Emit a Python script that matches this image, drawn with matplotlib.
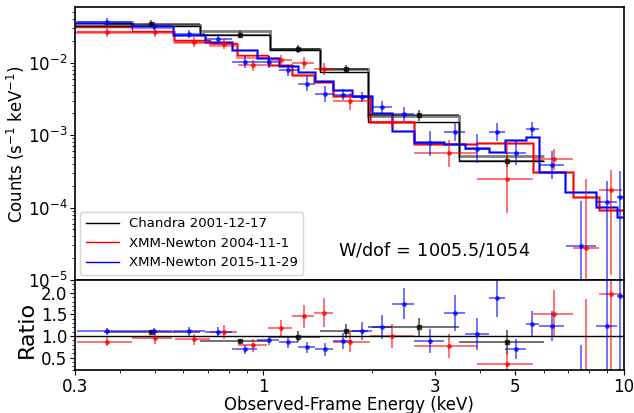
import numpy as np
import matplotlib
matplotlib.use("Agg")
import matplotlib.pyplot as plt
from matplotlib.ticker import FixedLocator, FixedFormatter, NullFormatter, MultipleLocator

# ---------------- data ----------------
# Chandra 2001-12-17
ch_x = [0.488, 0.862, 1.249, 1.697, 2.708, 4.755]
ch_lo = [0.36, 0.667, 1.044, 1.438, 1.955, 3.477]
ch_hi = [0.667, 1.044, 1.438, 1.955, 3.477, 5.985]
ch_y = [0.0344, 0.02427, 0.01543, 0.00827, 0.00187, 0.000435]
ch_dex = [0.05, 0.05, 0.05, 0.05, 0.07, 0.08]
ch_ratio = [1.098, 0.886, 0.98, 1.12, 1.21, 0.86]
ch_rerr = [0.04, 0.05, 0.13, 0.17, 0.2, 0.27]
ch_edges = [0.30, 0.667, 1.044, 1.438, 1.955, 3.477, 5.985]
ch_model = [0.03228, 0.02427, 0.01509, 0.00740, 0.001543, 0.000435]
ch_model2 = [0.03363, 0.02781, 0.01558, 0.00827, 0.001866, 0.000509]

# XMM-Newton 2004-11-1
r_x = [0.369, 0.500, 0.640, 0.779, 0.938, 1.118, 1.292, 1.475, 1.742, 2.274,
       3.267, 4.746, 6.394, 7.866, 9.19]
r_lo = [0.3033, 0.432, 0.569, 0.711, 0.851, 1.03, 1.200, 1.377, 1.562, 1.979,
        2.623, 3.916, 5.605, 7.239, 8.51]
r_hi = [0.432, 0.557, 0.711, 0.844, 1.022, 1.200, 1.377, 1.562, 1.979, 2.623,
        3.916, 5.605, 7.239, 8.51, 9.90]
r_y = [0.02644, 0.0264, 0.01926, 0.01808, 0.00918, 0.01075, 0.00990, 0.00819,
       0.00294, 0.00151, 0.000560, 0.000251, 0.000463, 2.74e-5, 0.000175]
r_dex_dn = [0.07, 0.07, 0.07, 0.07, 0.08, 0.07, 0.08, 0.08, 0.12, 0.08,
            0.19, 0.47, 0.14, 3.0, 1.18]
r_dex_up = [0.07, 0.07, 0.07, 0.07, 0.08, 0.07, 0.08, 0.08, 0.12, 0.08,
            0.19, 0.50, 0.14, 0.96, 0.28]
r_ratio = [0.87, 0.955, 0.92, 1.10, 0.78, 1.18, 1.46, 1.54, 0.86, 1.0,
           0.77, 0.34, 1.52, 0.15, 1.97]
r_rerr_dn = [0.11, 0.13, 0.13, 0.16, 0.15, 0.19, 0.27, 0.34, 0.23, 0.28,
             0.28, 0.3, 0.54, 0.5, 2.0]
r_rerr_up = [0.11, 0.13, 0.13, 0.16, 0.15, 0.19, 0.27, 0.34, 0.23, 0.28,
             0.28, 0.3, 0.54, 1.7, 2.0]
r_edges = [0.30, 0.432, 0.563, 0.711, 0.844, 1.03, 1.200, 1.377, 1.562, 1.979,
           2.623, 3.916, 5.605, 7.239, 8.51, 10.0]
r_model = [0.03078, 0.02712, 0.02072, 0.01884, 0.01288, 0.00939, 0.00684, 0.00548,
           0.003516, 0.00151, 0.000745, 0.000786, 0.000312, 0.0001421, 0.0000921]
r_model2 = [0.02627, 0.02695, 0.01945, 0.01769, 0.01209, 0.00939, 0.00684, 0.00548,
            0.00344, 0.001509, 0.000745, 0.000786, 0.000312, 0.000142, 0.0000921]

# XMM-Newton 2015-11-29
b_x = [0.369, 0.498, 0.623, 0.750, 0.886, 1.033, 1.169, 1.321, 1.478, 1.662,
       1.877, 2.132, 2.450, 2.893, 3.409, 3.916, 4.453, 5.028, 5.568, 6.33,
       7.585, 8.955, 9.75]
b_lo = [0.3033, 0.432, 0.5626, 0.689, 0.8175, 0.959, 1.101, 1.247, 1.393, 1.559,
        1.761, 2.001, 2.274, 2.623, 3.177, 3.635, 4.219, 4.694, 5.359, 5.808,
        6.89, 8.35, 9.55]
b_hi = [0.432, 0.557, 0.689, 0.8175, 0.959, 1.101, 1.247, 1.393, 1.559, 1.761,
        2.001, 2.274, 2.623, 3.177, 3.635, 4.219, 4.694, 5.359, 5.808, 6.815,
        8.35, 9.55, 10.0]
b_y = [0.0363, 0.03258, 0.02529, 0.02118, 0.01022, 0.01022, 0.00784, 0.00514,
       0.00375, 0.00363, 0.00338, 0.00246, 0.00197, 0.000769, 0.00110, 0.000650,
       0.00110, 0.000573, 0.001198, 0.000387, 2.92e-5, 0.000121, 0.000138]
b_dex_dn = [0.055, 0.055, 0.055, 0.07, 0.08, 0.08, 0.08, 0.1, 0.11, 0.08,
            0.07, 0.08, 0.1, 0.17, 0.12, 0.2, 0.12, 0.17, 0.11, 0.19,
            3.0, 3.0, 3.0]
b_dex_up = [0.055, 0.055, 0.055, 0.07, 0.08, 0.08, 0.08, 0.1, 0.11, 0.08,
            0.07, 0.08, 0.1, 0.17, 0.12, 0.2, 0.12, 0.17, 0.11, 0.19,
            0.63, 0.28, 0.37]
b_ratio = [1.107, 1.107, 1.107, 1.10, 0.69, 0.90, 0.87, 0.74, 0.69, 0.88,
           1.12, 1.21, 1.75, 0.89, 1.54, 1.045, 1.88, 0.69, 1.27, 1.23,
           0.15, 1.23, 1.93]
b_rerr_dn = [0.09, 0.09, 0.1, 0.11, 0.11, 0.11, 0.14, 0.13, 0.15, 0.18,
             0.21, 0.28, 0.36, 0.28, 0.42, 0.38, 0.44, 0.23, 0.3, 0.34,
             0.5, 1.5, 2.0]
b_rerr_up = [0.09, 0.09, 0.1, 0.11, 0.11, 0.11, 0.14, 0.13, 0.15, 0.18,
             0.21, 0.28, 0.36, 0.28, 0.42, 0.38, 0.44, 0.23, 0.3, 0.34,
             0.63, 1.5, 2.0]
b_edges = [0.30, 0.432, 0.5626, 0.689, 0.8175, 0.959, 1.101, 1.247, 1.393, 1.559,
           1.761, 2.001, 2.274, 2.623, 3.177, 3.635, 4.219, 4.694, 5.359, 5.808,
           6.85, 8.35, 9.55, 10.0]
b_model = [0.03494, 0.03228, 0.02427, 0.01963, 0.01509, 0.01160, 0.00909, 0.00735,
           0.00553, 0.00425, 0.00344, 0.002033, 0.001135, 0.000793, 0.000745,
           0.000667, 0.000584, 0.000854, 0.000951, 0.000314, 0.0001644,
           0.0001003, 0.0000731]
b_model2 = [0.0363, 0.03127, 0.02427, 0.01963, 0.01509, 0.01160, 0.00909, 0.00735,
            0.00553, 0.00425, 0.00344, 0.002033, 0.001135, 0.000793, 0.000745,
            0.000667, 0.000584, 0.000854, 0.000951, 0.000314, 0.0001644,
            0.0001003, 0.0000731]

labels = ["Chandra 2001-12-17", "XMM-Newton 2004-11-1", "XMM-Newton 2015-11-29"]
colors = ["black", "red", "blue"]
xticks = [0.3, 1, 3, 5, 10]
xticklabels = ["0.3", "1", "3", "5", "10"]
fit_text = "W/dof$\\,=\\,$1005.5/1054"

# ---------------- figure ----------------
fig = plt.figure(figsize=(6.34, 4.13), dpi=100)
L, R = 0.1183, 0.984
ax1 = fig.add_axes([L, 0.322, R - L, 0.982 - 0.322])
ax2 = fig.add_axes([L, 0.103, R - L, 0.322 - 0.103], sharex=ax1)

series = [
    (ch_x, ch_lo, ch_hi, ch_y, ch_dex, ch_dex, ch_ratio, ch_rerr, ch_rerr,
     ch_edges, ch_model, ch_model2, 's'),
    (r_x, r_lo, r_hi, r_y, r_dex_dn, r_dex_up, r_ratio, r_rerr_dn, r_rerr_up,
     r_edges, r_model, r_model2, 'o'),
    (b_x, b_lo, b_hi, b_y, b_dex_dn, b_dex_up, b_ratio, b_rerr_dn, b_rerr_up,
     b_edges, b_model, b_model2, 'o'),
]

for (x, lo, hi, y, ddn, dup, rat, rdn, rup, edges, m1, m2, mk), c, lab in zip(series, colors, labels):
    x = np.array(x); lo = np.array(lo); hi = np.array(hi); y = np.array(y)
    yl = y - y * 10 ** (-np.array(ddn))
    yu = y * 10 ** np.array(dup) - y
    xerr = [x - lo, hi - x]
    ax1.stairs(m2, edges, color=c, lw=2.0, alpha=0.5, baseline=None)
    ax1.stairs(m1, edges, color=c, lw=1.0, baseline=None, label=lab)
    ax1.errorbar(x, y, xerr=xerr, yerr=[yl, yu], fmt=mk, ms=2.5, color=c,
                 elinewidth=1.2, capsize=0, alpha=0.65)
    rat = np.array(rat)
    ax2.errorbar(x, rat, xerr=xerr, yerr=[rdn, rup], fmt=mk, ms=2.5, color=c,
                 elinewidth=1.2, capsize=0, alpha=0.65)

ax2.axhline(1.0, color='black', lw=1.0)

ax1.set_xscale('log')
ax1.set_yscale('log')
ax1.set_xlim(0.3, 10)
ax1.set_ylim(1e-5, 0.058)
ax2.set_ylim(0.2, 2.3)

ax2.xaxis.set_major_locator(FixedLocator(xticks))
ax2.xaxis.set_major_formatter(FixedFormatter(xticklabels))
ax2.xaxis.set_minor_locator(FixedLocator([0.4, 0.5, 0.6, 0.7, 0.8, 0.9, 2, 4, 6, 7, 8, 9]))
ax2.xaxis.set_minor_formatter(NullFormatter())
plt.setp(ax1.get_xticklabels(which='both'), visible=False)
ax1.tick_params(axis='x', which='both', length=0)

ax2.yaxis.set_major_locator(FixedLocator([0.5, 1.0, 1.5, 2.0]))
ax2.yaxis.set_minor_locator(MultipleLocator(0.1))

for ax in (ax1, ax2):
    ax.tick_params(labelsize=12, pad=2)
    for s in ax.spines.values():
        s.set_linewidth(1.2)

ax1.set_ylabel("Counts (s$^{-1}$ keV$^{-1}$)", fontsize=12)
ax2.set_ylabel("Ratio", fontsize=16)
ax2.set_xlabel("Observed-Frame Energy (keV)", fontsize=12, labelpad=0)
ax1.yaxis.set_label_coords(-0.088, 0.5)
ax2.yaxis.set_label_coords(-0.07, 0.45)

ax1.legend(loc='lower left', fontsize=9.5, frameon=True, handlelength=2.5,
           borderaxespad=0.4)
ax1.text(0.48, 0.11, fit_text, transform=ax1.transAxes, fontsize=12.7,
         ha='left', va='center')

fig.savefig("out.png", dpi=100)
